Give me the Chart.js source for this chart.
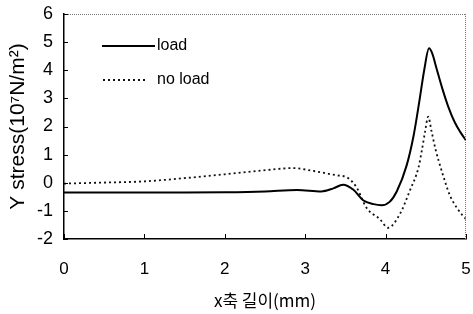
<!DOCTYPE html>
<html><head><meta charset="utf-8">
<script src="https://cdn.jsdelivr.net/npm/chart.js@4"></script>
<style>html,body{margin:0;padding:0;background:#fff}</style>
</head><body>
<canvas id="c" width="473" height="314" style="width:473px;height:314px;display:block"></canvas>
<script>
// ---- data ----
const seriesNames = ['load', 'no load'];
const loadX = [0, 0.5, 1, 1.5, 2, 2.5, 2.9, 3.2, 3.35, 3.47, 3.6, 3.72, 3.85, 3.95, 4.05, 4.14, 4.26, 4.35, 4.42, 4.48, 4.54, 4.58, 4.63, 4.7, 4.78, 4.86, 4.93, 5];
const loadY = [-0.35, -0.35, -0.35, -0.35, -0.34, -0.31, -0.26, -0.31, -0.2, -0.07, -0.25, -0.62, -0.76, -0.8, -0.68, -0.3, 0.6, 1.7, 2.9, 4.0, 4.78, 4.6, 4.1, 3.4, 2.7, 2.15, 1.8, 1.5];
const noLoadX = [0, 0.4, 1, 1.6, 2, 2.45, 2.85, 3.1, 3.4, 3.52, 3.64, 3.76, 3.93, 4.03, 4.18, 4.3, 4.41, 4.45, 4.49, 4.53, 4.57, 4.62, 4.7, 4.8, 4.9, 5];
const noLoadY = [-0.03, 0, 0.05, 0.19, 0.3, 0.43, 0.52, 0.42, 0.26, 0.19, -0.17, -0.88, -1.3, -1.6, -1.1, -0.29, 0.55, 1.14, 1.8, 2.35, 1.85, 1.2, 0.4, -0.45, -0.95, -1.3];
const xTicks = [0, 1, 2, 3, 4, 5];
const yTicks = [-2, -1, 0, 1, 2, 3, 4, 5, 6];
const xTitle = 'x축 길이(mm)';
const yTitle = 'Y stress(10⁷N/m²)';

const toPts = (xs, ys) => xs.map((x, i) => ({x: x, y: ys[i]}));
const FONT = '"Liberation Sans", Arial, sans-serif';

const decor = {
  id: 'decor',
  afterDraw(chart) {
    const ctx = chart.ctx, a = chart.chartArea;
    const xs = chart.scales.x, ys = chart.scales.y;
    ctx.save();
    // top & right frame (dotted grey)
    ctx.strokeStyle = '#777'; ctx.lineWidth = 1; ctx.setLineDash([1, 1]);
    ctx.beginPath();
    ctx.moveTo(a.left, a.top + 0.5); ctx.lineTo(a.right, a.top + 0.5);
    ctx.moveTo(a.right - 0.5, a.top); ctx.lineTo(a.right - 0.5, a.bottom);
    ctx.stroke();
    ctx.setLineDash([]);
    // inward ticks
    ctx.strokeStyle = '#000'; ctx.lineWidth = 1;
    ctx.beginPath();
    yTicks.forEach(v => { const y = Math.round(ys.getPixelForValue(v)) + 0.5; ctx.moveTo(a.left, y); ctx.lineTo(a.left + 4, y); });
    xTicks.forEach(v => { const x = Math.round(xs.getPixelForValue(v)) + 0.5; ctx.moveTo(x, a.bottom); ctx.lineTo(x, a.bottom - 5); });
    ctx.stroke();
    // legend
    const rows = [{y: 46, x1: 102, x2: 155}, {y: 80, x1: 103, x2: 146}];
    ctx.font = '16px ' + FONT; ctx.fillStyle = '#000'; ctx.textBaseline = 'middle';
    chart.data.datasets.forEach((ds, i) => {
      const r = rows[i];
      ctx.strokeStyle = ds.borderColor; ctx.lineWidth = ds.borderWidth;
      ctx.setLineDash(ds.borderDash || []);
      ctx.beginPath(); ctx.moveTo(r.x1, r.y); ctx.lineTo(r.x2, r.y); ctx.stroke();
      ctx.setLineDash([]);
      ctx.fillText(ds.label, 157, r.y);
    });
    ctx.restore();
  }
};

new Chart(document.getElementById('c'), {
  type: 'line',
  data: {
    datasets: [
      {label: seriesNames[0], data: toPts(loadX, loadY), borderColor: '#000', borderWidth: 2, pointRadius: 0, cubicInterpolationMode: 'monotone', fill: false},
      {label: seriesNames[1], data: toPts(noLoadX, noLoadY), borderColor: '#111', borderWidth: 1.8, borderDash: [2, 3], pointRadius: 0, cubicInterpolationMode: 'monotone', fill: false}
    ]
  },
  options: {
    responsive: false, animation: false, devicePixelRatio: 1,
    layout: {padding: {top: 14, right: 7, left: 0, bottom: 0}},
    plugins: {legend: {display: false}, tooltip: {enabled: false}},
    scales: {
      x: {
        type: 'linear', min: 0, max: 5,
        afterBuildTicks: s => { s.ticks = xTicks.map(v => ({value: v})); },
        ticks: {color: '#000', font: {family: FONT, size: 17}, padding: 20, maxRotation: 0},
        grid: {drawOnChartArea: false, drawTicks: false},
        border: {display: true, color: '#000', width: 1.5},
        title: {display: true, text: xTitle, color: '#000', font: {family: '"Noto Sans CJK KR", sans-serif', size: 17}, padding: {top: 0, bottom: 3}},
        afterFit: s => { s.height = 75; s.paddingLeft = 0; s.paddingRight = 0; }
      },
      y: {
        type: 'linear', min: -2, max: 6,
        afterBuildTicks: s => { s.ticks = yTicks.map(v => ({value: v})); },
        ticks: {color: '#000', font: {family: FONT, size: 18}, padding: 11},
        grid: {drawOnChartArea: false, drawTicks: false},
        border: {display: true, color: '#000', width: 1.5},
        title: {display: true, text: yTitle, color: '#000', font: {family: FONT, size: 21}, padding: {top: 6, bottom: 0}},
        afterFit: s => { s.width = 64; s.paddingTop = 0; s.paddingBottom = 0; }
      }
    }
  },
  plugins: [decor]
});
</script>
</body></html>
